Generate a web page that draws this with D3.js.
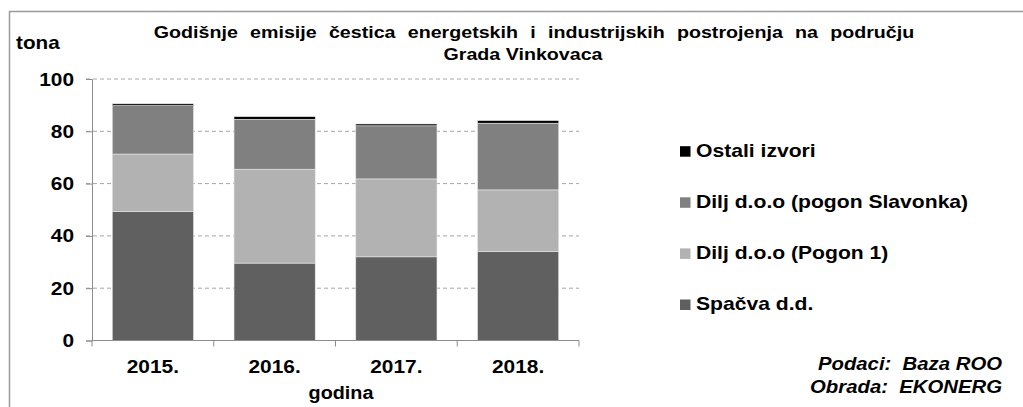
<!DOCTYPE html>
<html>
<head>
<meta charset="utf-8"/>
<title>Emisije čestica</title>
<script src="https://d3js.org/d3.v7.min.js"></script>
<style>
  body { margin: 0; background: #fff; }
  text { font-family: "Liberation Sans", Arial, sans-serif; font-weight: bold; fill: #000; }
  .grid line { stroke: #a6a6a6; stroke-dasharray: 4 3; }
</style>
</head>
<body>
<svg width="1023" height="407"></svg>
<script>
// data
var years = ["2015.", "2016.", "2017.", "2018."];
var series = ["Spačva d.d.", "Dilj d.o.o (Pogon 1)", "Dilj d.o.o (pogon Slavonka)", "Ostali izvori"];
var spacva   = [49.3, 29.6, 32.0, 34.1];
var pogon1   = [22.0, 35.9, 29.8, 23.5];
var slavonka = [18.5, 19.1, 20.3, 25.5];
var ostali   = [0.7, 1.0, 0.7, 1.0];
var colors = ["#606060", "#b2b2b2", "#808080", "#000000"];
var yTicks = [0, 20, 40, 60, 80, 100];

var rows = years.map(function(y, i) {
  return { year: y, s0: spacva[i], s1: pogon1[i], s2: slavonka[i], s3: ostali[i] };
});

var svg = d3.select("svg");
var plotL = 92, plotR = 579, plotT = 79, plotB = 340.5;
var SX = 1.13; // text in the reference is a bit wider than it is tall

// text helper: horizontally stretched label
function label(parent, x, y, txt, size, anchor, italic) {
  var g = parent.append("g").attr("transform", "translate(" + x + "," + y + ") scale(" + SX + ",1)");
  var t = g.append("text").attr("text-anchor", anchor || "start")
    .style("font-size", size + "px").style("white-space", "pre").text(txt);
  if (italic) t.style("font-style", "italic");
  return t;
}

// frame (only left/top visible in the reference)
svg.append("rect").attr("x", 9.5).attr("y", 11.5).attr("width", 1100).attr("height", 500)
  .attr("fill", "none").attr("stroke", "#9a9a9a").attr("stroke-width", 1.5);

var x = d3.scaleBand().domain(years).range([plotL, plotR]).paddingInner(0.333).paddingOuter(0.1665);
var y = d3.scaleLinear().domain([0, 100]).range([plotB, plotT]);

// gridlines
svg.append("g").attr("class", "grid")
  .selectAll("line").data(yTicks.filter(function(d) { return d > 0; })).enter().append("line")
  .attr("x1", plotL - 6).attr("x2", plotR).attr("y1", function(d) { return y(d); }).attr("y2", function(d) { return y(d); });

var stack = d3.stack().keys(["s0", "s1", "s2", "s3"]);
var layers = stack(rows);

svg.append("g").selectAll("g").data(layers).enter().append("g")
  .attr("fill", function(d, i) { return colors[i]; })
  .selectAll("rect").data(function(d) { return d; }).enter().append("rect")
  .attr("x", function(d) { return x(d.data.year); })
  .attr("width", x.bandwidth())
  .attr("y", function(d) { return y(d[1]); })
  .attr("height", function(d) { return y(d[0]) - y(d[1]); })
  .attr("stroke", "#e6e6e6").attr("stroke-width", 0.6);

// y axis
var yAxis = svg.append("g").attr("transform", "translate(" + plotL + ",0)")
  .call(d3.axisLeft(y).tickValues(yTicks).tickSize(6).tickFormat(""));
yAxis.select(".domain").attr("stroke", "#8c8c8c");
yAxis.selectAll(".tick line").attr("stroke", "#8c8c8c");
yTicks.forEach(function(v) {
  label(svg, 74, y(v) + 6.5, String(v), 18.5, "end");
});

// x axis
var xAxis = svg.append("g").attr("transform", "translate(0," + plotB + ")")
  .call(d3.axisBottom(x).tickSize(0).tickFormat(""));
xAxis.select(".domain").remove();
xAxis.append("line").attr("x1", plotL).attr("x2", plotR).attr("stroke", "#8c8c8c");
var edges = [plotL].concat(years.map(function(d) { return x(d) + x.bandwidth() + x.step() * 0.1665; }));
xAxis.selectAll(".sep").data(edges).enter().append("line").attr("class", "sep")
  .attr("x1", function(d) { return d; }).attr("x2", function(d) { return d; })
  .attr("y1", 0).attr("y2", 6).attr("stroke", "#8c8c8c");
years.forEach(function(yr) {
  label(svg, x(yr) + x.bandwidth() / 2, 372.5, yr, 18.5, "middle");
});

// titles
label(svg, 534, 37.5, "Godišnje emisije čestica energetskih i industrijskih postrojenja na području", 17.4, "middle")
  .style("word-spacing", "6px");
label(svg, 523, 59.5, "Grada Vinkovaca", 17.4, "middle");
label(svg, 16, 48.5, "tona", 18.3, "start");
label(svg, 341, 398.5, "godina", 17.5, "middle");

// legend (reverse order, top = Ostali)
var legend = svg.append("g").selectAll("g").data(series.slice().reverse()).enter().append("g")
  .attr("transform", function(d, i) { return "translate(680," + (156.7 + i * 51.1) + ")"; });
legend.append("rect").attr("x", 0).attr("y", -10.5).attr("width", 10.5).attr("height", 10.5)
  .attr("fill", function(d, i) { return colors[3 - i]; });
legend.each(function(d) {
  label(d3.select(this), 16, 0, d, 18.7, "start");
});

// source note
label(svg, 1002, 370, "Podaci:  Baza ROO", 18, "end", true);
label(svg, 1002, 393, "Obrada:  EKONERG", 18, "end", true);
</script>
</body>
</html>
